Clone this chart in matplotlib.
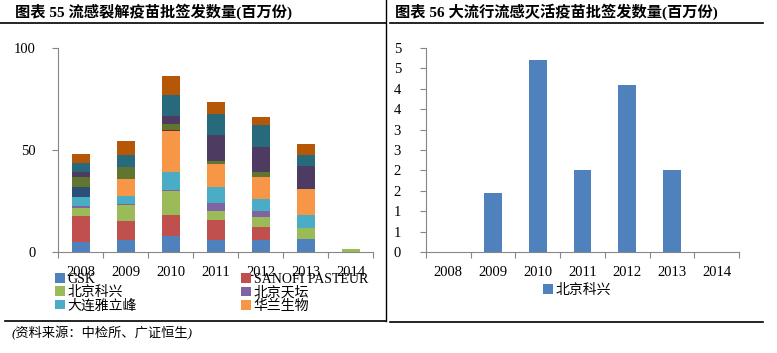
import numpy as np
import matplotlib
matplotlib.use("Agg")
import matplotlib.pyplot as plt
from matplotlib.lines import Line2D
from matplotlib.patches import Patch
from matplotlib.ticker import FuncFormatter, FixedLocator

plt.rcParams['font.family'] = ['Liberation Serif', 'Noto Sans CJK SC']

# ---------------- data ----------------
years = ['2008', '2009', '2010', '2011', '2012', '2013', '2014']

# chart 55 : stacked series (million doses), bottom -> top
gsk       = [5.0, 5.7, 7.7, 5.7, 5.7, 6.5, 0.0]
sanofi    = [12.6, 9.5, 10.6, 9.8, 6.5, 0.0, 0.0]
bj_kexing = [3.8, 7.8, 11.8, 4.4, 5.2, 5.2, 1.6]
bj_tiantan = [1.0, 0.5, 0.3, 4.1, 2.9, 0.0, 0.0]
dl_yalifeng = [4.6, 3.9, 8.8, 7.8, 5.7, 6.5, 0.0]
hualan    = [0.0, 8.2, 19.9, 11.1, 10.9, 12.6, 0.0]
# series not shown in the (cut) legend
other7  = [4.9, 0.0, 0.0, 0.0, 0.0, 0.0, 0.0]
other8  = [0.0, 0.0, 0.5, 0.0, 0.0, 0.0, 0.0]
other9  = [4.9, 6.2, 3.3, 1.6, 2.5, 0.0, 0.0]
other10 = [2.5, 0.0, 3.6, 12.9, 12.3, 11.4, 0.0]
other11 = [4.4, 5.6, 10.6, 10.3, 10.8, 5.4, 0.0]
other12 = [4.2, 7.0, 9.0, 6.0, 3.9, 5.4, 0.0]

legend_names = ['GSK', 'SANOFI PASTEUR', '北京科兴', '北京天坛', '大连雅立峰', '华兰生物']

# chart 56 : pandemic flu vaccine (北京科兴)
pandemic_kexing = [0.0, 1.45, 4.7, 2.0, 4.1, 2.0, 0.0]

title_left = '图表 55 流感裂解疫苗批签发数量(百万份)'
title_right = '图表 56 大流行流感灭活疫苗批签发数量(百万份)'
source_txt = '(资料来源：中检所、广证恒生)'

colors = ['#4F81BD', '#C0504D', '#9BBB59', '#8064A2', '#4BACC6', '#F79646',
          '#2C4D75', '#772C2A', '#5F7530', '#4D3B62', '#276A7C', '#B65708']

AXIS_COL = '#868686'

# ---------------------------------------

def style_ax(ax):
    for s in ['top', 'right']:
        ax.spines[s].set_visible(False)
    for s in ['left', 'bottom']:
        ax.spines[s].set_color(AXIS_COL)
        ax.spines[s].set_linewidth(0.8)
    ax.set_xlim(-0.5, len(years) - 0.5)
    ax.set_xticks(range(len(years)))
    ax.set_xticklabels(years, fontsize=10.5)
    ax.tick_params(axis='x', which='major', length=0, pad=10)
    ax.xaxis.set_minor_locator(FixedLocator(np.arange(-0.5, len(years), 1.0)))
    ax.tick_params(axis='x', which='minor', length=4, color=AXIS_COL, width=0.8)
    ax.tick_params(axis='y', length=4, color=AXIS_COL, width=0.8, labelsize=10.5)


fig = plt.figure(figsize=(7.77, 3.53), dpi=100)
W, H = 777.0, 353.0

def fx(px):
    return px / W

def fy(py):
    return 1 - py / H

# ---- left chart ----
ax1 = fig.add_axes([fx(58), fy(252), fx(373) - fx(58), fy(48) - fy(252)])
series = [gsk, sanofi, bj_kexing, bj_tiantan, dl_yalifeng, hualan,
          other7, other8, other9, other10, other11, other12]
x = np.arange(len(years))
bottom = np.zeros(len(years))
for i, s in enumerate(series):
    ax1.bar(x, s, 0.4, bottom=bottom, color=colors[i], linewidth=0)
    bottom += np.array(s)
ax1.set_ylim(0, 100)
ax1.set_yticks([0, 50, 100])
style_ax(ax1)
ax1.tick_params(axis='y', pad=12)

# legend sits over the tick labels, like in the original
handles = [Patch(facecolor=colors[i], edgecolor='none') for i in range(6)]
order = [0, 2, 4, 1, 3, 5]
fig.legend([handles[i] for i in order], [legend_names[i] for i in order],
           ncol=2, loc='upper left', bbox_to_anchor=(fx(55), fy(273)),
           frameon=False, fontsize=10, handlelength=0.7, handleheight=0.7,
           handletextpad=0.2, columnspacing=7.5, labelspacing=0.0,
           borderaxespad=0, borderpad=0)

# ---- right chart ----
ax2 = fig.add_axes([fx(426), fy(252), fx(739) - fx(426), fy(48) - fy(252)])
ax2.bar(x, pandemic_kexing, 0.4, color=colors[0], linewidth=0)
ax2.set_ylim(0, 5)
ax2.set_yticks(np.arange(0, 5.01, 0.5))
ax2.yaxis.set_major_formatter(FuncFormatter(lambda v, p: '%d' % int(v + 0.5)))
style_ax(ax2)
ax2.tick_params(axis='y', pad=14)
fig.legend([Patch(facecolor=colors[0], edgecolor='none')], ['北京科兴'],
           loc='upper left', bbox_to_anchor=(fx(543), fy(284)),
           frameon=False, fontsize=10, handlelength=0.7, handleheight=0.7,
           handletextpad=0.2, borderaxespad=0, borderpad=0)

# ---- titles, frame lines, source ----
fig.text(fx(15), fy(12), title_left, fontsize=11, fontweight='bold', va='center')
fig.text(fx(395), fy(12), title_right, fontsize=11, fontweight='bold', va='center')

line_kw = dict(color='black', linewidth=1.2, transform=fig.transFigure)
fig.add_artist(Line2D([fx(0), fx(386)], [fy(23), fy(23)], **line_kw))
fig.add_artist(Line2D([fx(390), fx(763)], [fy(23), fy(23)], **line_kw))
fig.add_artist(Line2D([fx(5), fx(386)], [fy(321), fy(321)], **line_kw))
fig.add_artist(Line2D([fx(390), fx(763)], [fy(322), fy(322)], **line_kw))
fig.add_artist(Line2D([fx(386), fx(386)], [fy(0), fy(321)], color='black',
                      linewidth=1.0, transform=fig.transFigure))

fig.text(fx(12), fy(333), source_txt, fontsize=9.5, style='italic', va='center')

fig.savefig('out.png', dpi=100)
